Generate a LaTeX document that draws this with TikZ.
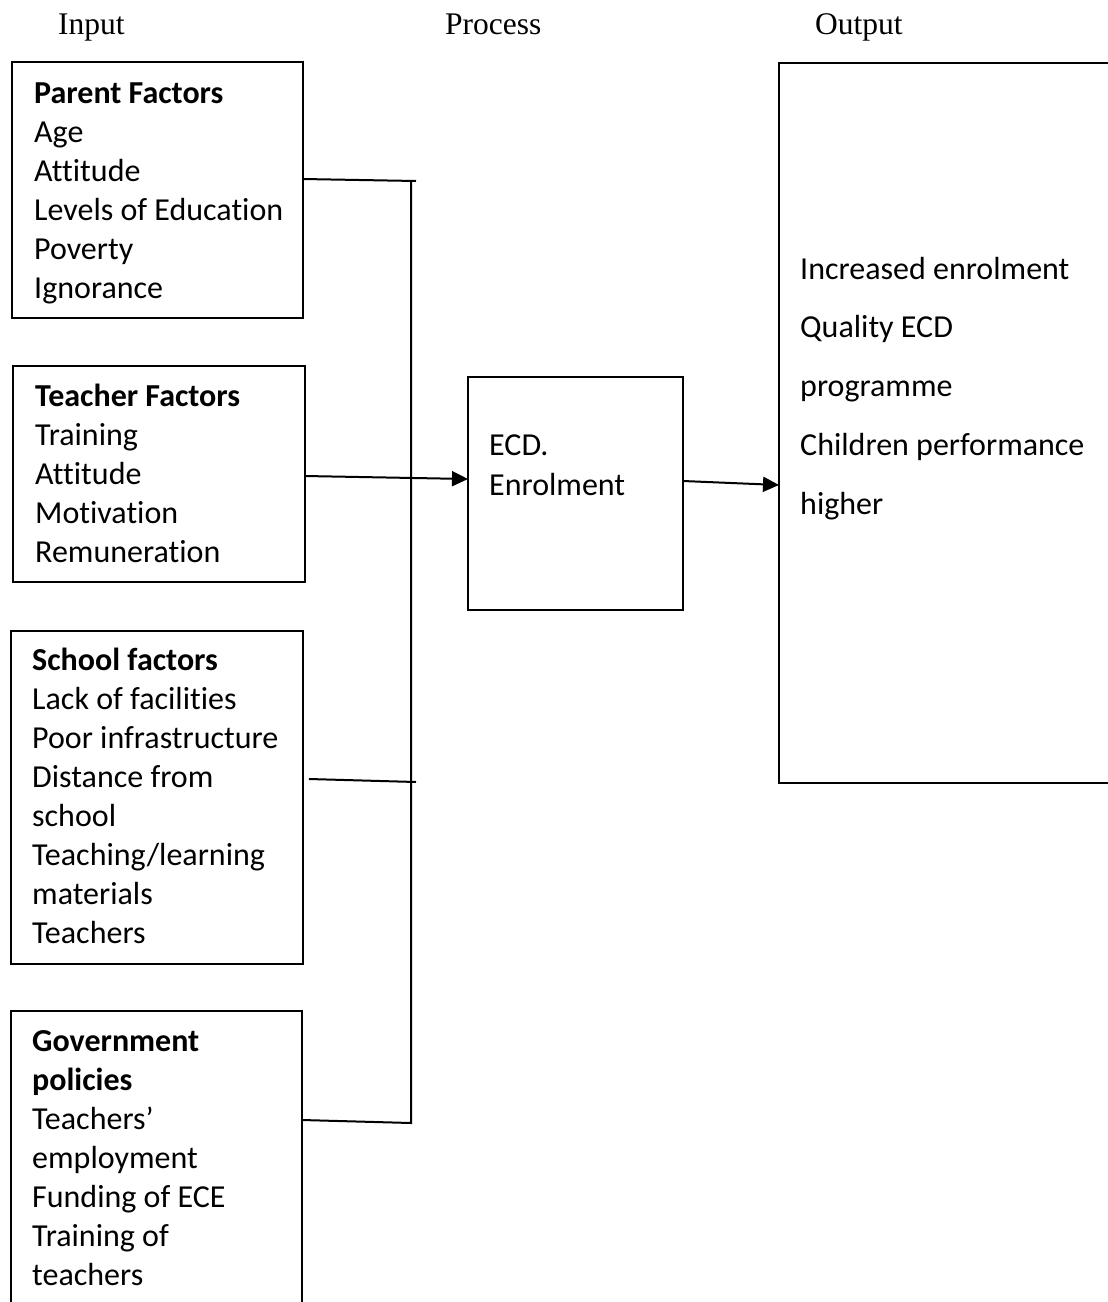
\documentclass[tikz,border=0pt]{standalone}
\usepackage{fontspec}
\setmainfont{Carlito}[Ligatures=CommonOff]
\newfontfamily\titlefont{Liberation Serif}
\usetikzlibrary{arrows.meta,calc}
\begin{document}
\begin{tikzpicture}[x=1pt,y=-1pt,
  box/.style={draw,line width=2pt,anchor=north west,inner sep=0pt,outer sep=0pt},
  openbox/.style={draw=none,anchor=north west,inner sep=0pt,outer sep=0pt},
  txt/.style={anchor=base west,align=left,inner sep=0pt,font=\fontsize{32}{39}\selectfont},
  ptxt/.style={anchor=base west,align=left,inner sep=0pt,font=\fontsize{32}{40}\selectfont},
  otxt/.style={anchor=base west,align=left,inner sep=0pt,font=\fontsize{32}{58.75}\selectfont},
  ttl/.style={anchor=base west,inner sep=0pt,font=\titlefont\fontsize{31.5}{38}\selectfont},
  conn/.style={line width=2pt},
  arr/.style={line width=2pt,-{Triangle[length=16pt,width=15pt]}}]
\useasboundingbox (0,0) rectangle (1108,1302);
% titles
\node[ttl] (tin) at (58,34) {Input};
\node[ttl] (tproc) at (445,34) {Process};
\node[ttl] (tout) at (815,34) {Output};
% input boxes
\node[box,minimum width=291pt,minimum height=256pt] (parent) at (12,62) {};
\node[box,minimum width=292pt,minimum height=216pt] (teacher) at (13,366) {};
\node[box,minimum width=292pt,minimum height=333pt] (school) at (11,631) {};
\node[openbox,minimum width=291pt,minimum height=305pt] (gov) at (11,1011) {};
\draw[line width=2pt] (gov.south west) -- (gov.north west) -- (gov.north east) -- (gov.south east);
% process box
\node[box,minimum width=215pt,minimum height=233pt] (proc) at (468,377) {};
% output box
\node[openbox,minimum width=332pt,minimum height=720pt] (out) at (779,63) {};
\draw[line width=2pt] (out.north east) -- (out.north west) -- (out.south west) -- (out.south east);
% texts (anchored at the baseline of the last line)
\node[txt] (parenttxt) at (34,298) {\textbf{Parent Factors}\\Age\\Attitude\\Levels of Education\\Poverty\\Ignorance};
\node[txt] (teachertxt) at (35,562) {\textbf{Teacher Factors}\\Training\\Attitude\\Motivation\\Remuneration};
\node[txt] (schooltxt) at (32,943) {\textbf{School factors}\\Lack of facilities\\Poor infrastructure\\Distance from\\school\\Teaching/learning\\materials\\Teachers};
\node[txt] (govtxt) at (32,1285) {\textbf{Government}\\\textbf{policies}\\Teachers’\\employment\\Funding of ECE\\Training of\\teachers};
\node[ptxt] (proctxt) at (489,495) {ECD.\\Enrolment};
\node[otxt] (outtxt) at (800,514) {Increased enrolment\\Quality ECD\\programme\\Children performance\\higher};
% connectors
\coordinate (jtop) at (411,181);
\coordinate (jtopx) at (416,181);
\coordinate (jbot) at (411,1123);
\coordinate (jsch) at (416,782);
\draw[conn] (parent.east |- 0,179) -- (jtopx);
\draw[conn] ($(school.east |- 0,779)+(6,0)$) -- (jsch);
\draw[conn] (gov.east |- 0,1120) -- (jbot) -- (jtop);
\draw[arr] (teacher.east |- 0,476) -- (proc.west |- 0,479);
\draw[arr] (proc.east |- 0,481) -- (out.west |- 0,485);
\end{tikzpicture}
\end{document}
